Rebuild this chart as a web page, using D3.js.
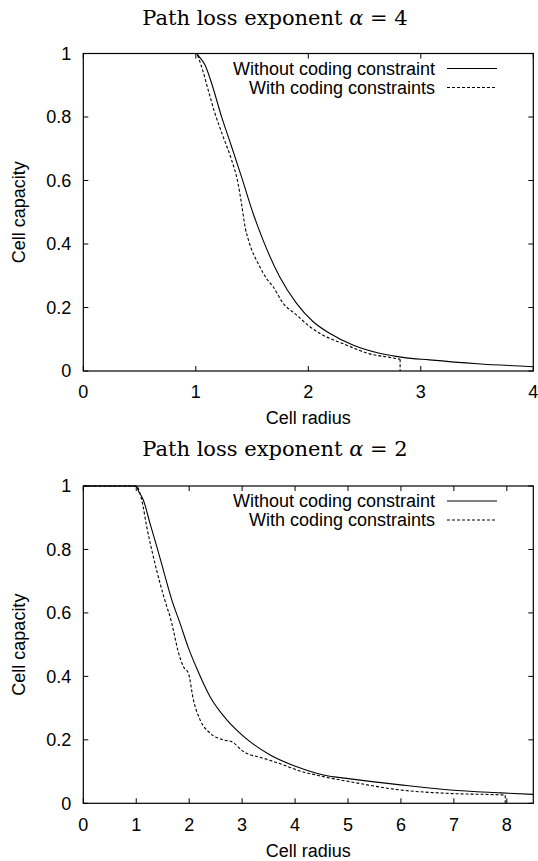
<!DOCTYPE html>
<html>
<head>
<meta charset="utf-8">
<script src="https://cdn.jsdelivr.net/npm/d3@7/dist/d3.min.js"></script>
<style>
  body { margin: 0; background: #fff; }
  svg text { fill: #000; }
  .tick-label, .axis-label, .legend-label { font-family: "Liberation Sans", Arial, sans-serif; font-size: 18px; }
  .title { font-family: "DejaVu Serif", "Liberation Serif", serif; font-size: 21px; }
</style>
</head>
<body>
<script>
// ---- data ----
var yTicks = [0, 0.2, 0.4, 0.6, 0.8, 1];
var yTickLabels = ["0", "0.2", "0.4", "0.6", "0.8", "1"];
var legendNames = ["Without coding constraint", "With coding constraints"];

// path loss exponent 4
var xTicksA4 = [0, 1, 2, 3, 4];
var radiusA4Plain = [0, 1.0, 1.03, 1.08, 1.139, 1.228, 1.317, 1.405, 1.509, 1.597, 1.745, 1.894, 2.041, 2.189, 2.396, 2.633, 2.84, 3.076, 3.5, 4.0];
var capA4Plain    = [1, 1, 0.99, 0.965, 0.908, 0.802, 0.708, 0.613, 0.497, 0.413, 0.297, 0.214, 0.156, 0.119, 0.082, 0.056, 0.043, 0.035, 0.023, 0.0136];
var radiusA4Coded = [0, 1.0, 1.05, 1.109, 1.169, 1.242, 1.317, 1.375, 1.405, 1.44, 1.47, 1.568, 1.627, 1.686, 1.775, 1.894, 2.012, 2.1, 2.337, 2.544, 2.721, 2.816, 2.816];
var capA4Coded    = [1, 1, 0.96, 0.886, 0.813, 0.739, 0.666, 0.592, 0.53, 0.45, 0.41, 0.329, 0.292, 0.266, 0.214, 0.177, 0.14, 0.119, 0.082, 0.054, 0.043, 0.037, 0];

// path loss exponent 2
var xTicksA2 = [0, 1, 2, 3, 4, 5, 6, 7, 8];
var radiusA2Plain = [0, 1.0, 1.04, 1.134, 1.26, 1.388, 1.512, 1.671, 1.828, 1.985, 2.144, 2.395, 2.711, 3.0, 3.53, 4.034, 4.537, 5.04, 5.99, 6.93, 7.88, 8.5];
var capA2Plain    = [1, 1, 0.985, 0.956, 0.882, 0.809, 0.735, 0.641, 0.567, 0.49, 0.425, 0.336, 0.263, 0.215, 0.152, 0.115, 0.089, 0.077, 0.058, 0.042, 0.033, 0.028];
var radiusA2Coded = [0, 1.0, 1.104, 1.198, 1.323, 1.45, 1.577, 1.639, 1.701, 1.785, 1.89, 1.985, 2.08, 2.206, 2.395, 2.647, 2.805, 3.025, 3.403, 3.781, 4.034, 4.537, 5.04, 5.99, 6.93, 7.94, 7.97, 7.97];
var capA2Coded    = [1, 1, 0.956, 0.872, 0.777, 0.693, 0.62, 0.588, 0.546, 0.483, 0.431, 0.41, 0.326, 0.263, 0.221, 0.2, 0.194, 0.163, 0.142, 0.121, 0.105, 0.084, 0.068, 0.042, 0.031, 0.026, 0.025, 0];

var width = 538, height = 861;
var svg = d3.select("body").append("svg")
  .attr("width", width)
  .attr("height", height);

var tickLen = 5;

function zip(xs, ys) {
  return xs.map(function(x, i) { return [x, ys[i]]; });
}

function drawPanel(opt) {
  var left = 83.3, right = 533.3;
  var x = d3.scaleLinear().domain([0, opt.xMax]).range([left, right]);
  var y = d3.scaleLinear().domain([0, 1]).range([opt.bottom, opt.top]);
  var g = svg.append("g");

  // title
  var t = g.append("text").attr("class", "title")
    .attr("x", 275).attr("y", opt.titleY)
    .attr("text-anchor", "middle");
  t.append("tspan").text("Path loss exponent ");
  t.append("tspan").attr("font-style", "italic").text("\u03b1");
  t.append("tspan").text(" = " + opt.alpha);

  // ticks, inward and mirrored like gnuplot
  var ticks = g.append("g").attr("stroke", "#000").attr("stroke-width", 1);
  opt.xTicks.forEach(function(v) {
    ticks.append("line").attr("x1", x(v)).attr("x2", x(v))
      .attr("y1", opt.bottom).attr("y2", opt.bottom - tickLen);
    ticks.append("line").attr("x1", x(v)).attr("x2", x(v))
      .attr("y1", opt.top).attr("y2", opt.top + tickLen);
  });
  yTicks.forEach(function(v) {
    ticks.append("line").attr("x1", left).attr("x2", left + tickLen)
      .attr("y1", y(v)).attr("y2", y(v));
    ticks.append("line").attr("x1", right).attr("x2", right - tickLen)
      .attr("y1", y(v)).attr("y2", y(v));
  });

  g.selectAll(".xl").data(opt.xTicks).enter().append("text")
    .attr("class", "tick-label")
    .attr("x", function(d) { return x(d); })
    .attr("y", opt.bottom + 21)
    .attr("dy", "0.35em")
    .attr("text-anchor", "middle")
    .text(function(d) { return d; });

  g.selectAll(".yl").data(yTicks).enter().append("text")
    .attr("class", "tick-label")
    .attr("x", left - 12)
    .attr("y", function(d) { return y(d); })
    .attr("dy", "0.35em")
    .attr("text-anchor", "end")
    .text(function(d, i) { return yTickLabels[i]; });

  g.append("text").attr("class", "axis-label")
    .attr("x", (left + right) / 2).attr("y", opt.bottom + 47)
    .attr("dy", "0.35em").attr("text-anchor", "middle")
    .text("Cell radius");

  g.append("text").attr("class", "axis-label")
    .attr("transform", "translate(19," + ((opt.top + opt.bottom) / 2) + ") rotate(-90)")
    .attr("dy", "0.35em").attr("text-anchor", "middle")
    .text("Cell capacity");

  // curves: smooth monotone part, plus a straight final drop where x repeats
  var smooth = d3.line().curve(d3.curveMonotoneX)
    .x(function(d) { return x(d[0]); }).y(function(d) { return y(d[1]); });
  var straight = d3.line()
    .x(function(d) { return x(d[0]); }).y(function(d) { return y(d[1]); });

  function drawSeries(pts, dash) {
    var tail = null;
    var n = pts.length;
    if (n > 1 && pts[n - 1][0] === pts[n - 2][0]) {
      tail = pts.slice(n - 2);
      pts = pts.slice(0, n - 1);
    }
    g.append("path").attr("d", smooth(pts))
      .attr("fill", "none").attr("stroke", "#000").attr("stroke-width", 1.1)
      .attr("stroke-dasharray", dash);
    if (tail) {
      g.append("path").attr("d", straight(tail))
        .attr("fill", "none").attr("stroke", "#000").attr("stroke-width", 1.1)
        .attr("stroke-dasharray", dash);
    }
  }
  drawSeries(zip(opt.plainX, opt.plainY), null);
  drawSeries(zip(opt.codedX, opt.codedY), "3,2");

  // legend
  var leg = g.append("g");
  legendNames.forEach(function(name, i) {
    var ly = opt.top + 15 + i * 19;
    leg.append("text").attr("class", "legend-label")
      .attr("x", 435).attr("y", ly).attr("dy", "0.35em")
      .attr("text-anchor", "end").text(name);
    leg.append("line").attr("x1", 447).attr("x2", 497)
      .attr("y1", ly).attr("y2", ly)
      .attr("stroke", "#000").attr("stroke-width", 1.1)
      .attr("stroke-dasharray", i ? "3,2" : null);
  });

  // frame
  g.append("rect").attr("x", left).attr("y", opt.top)
    .attr("width", right - left).attr("height", opt.bottom - opt.top)
    .attr("fill", "none").attr("stroke", "#000").attr("stroke-width", 1.2);
}

drawPanel({
  alpha: 4, xMax: 4, xTicks: xTicksA4, top: 53.5, bottom: 371, titleY: 25,
  plainX: radiusA4Plain, plainY: capA4Plain, codedX: radiusA4Coded, codedY: capA4Coded
});
drawPanel({
  alpha: 2, xMax: 8.5, xTicks: xTicksA2, top: 486, bottom: 803.3, titleY: 456,
  plainX: radiusA2Plain, plainY: capA2Plain, codedX: radiusA2Coded, codedY: capA2Coded
});
</script>
</body>
</html>
